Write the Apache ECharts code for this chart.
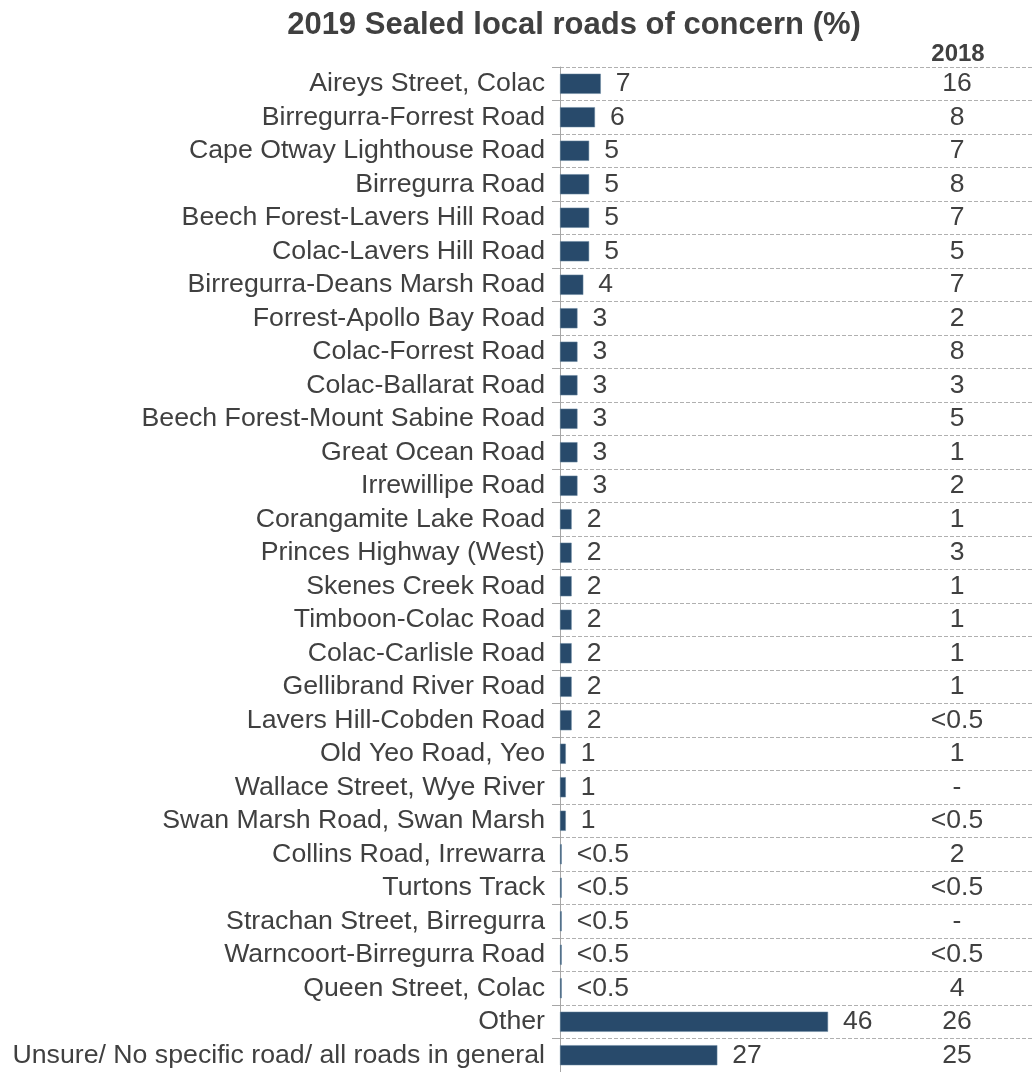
<!DOCTYPE html>
<html><head><meta charset="utf-8">
<script src="https://cdn.jsdelivr.net/npm/echarts@6/dist/echarts.min.js"></script>
<style>html,body{margin:0;padding:0;background:#fff}#c{width:1032px;height:1072px}</style>
</head><body><div id="c"></div>
<script>
var categories = ["Aireys Street, Colac","Birregurra-Forrest Road","Cape Otway Lighthouse Road","Birregurra Road","Beech Forest-Lavers Hill Road","Colac-Lavers Hill Road","Birregurra-Deans Marsh Road","Forrest-Apollo Bay Road","Colac-Forrest Road","Colac-Ballarat Road","Beech Forest-Mount Sabine Road","Great Ocean Road","Irrewillipe Road","Corangamite Lake Road","Princes Highway (West)","Skenes Creek Road","Timboon-Colac Road","Colac-Carlisle Road","Gellibrand River Road","Lavers Hill-Cobden Road","Old Yeo Road, Yeo","Wallace Street, Wye River","Swan Marsh Road, Swan Marsh","Collins Road, Irrewarra","Turtons Track","Strachan Street, Birregurra","Warncoort-Birregurra Road","Queen Street, Colac","Other","Unsure/ No specific road/ all roads in general"];
var values2019 = [7,6,5,5,5,5,4,3,3,3,3,3,3,2,2,2,2,2,2,2,1,1,1,0.3,0.3,0.3,0.3,0.3,46,27];
var labels2018 = ["16","8","7","8","7","5","7","2","8","3","5","1","2","1","3","1","1","1","1","<0.5","1","-","<0.5","2","<0.5","-","<0.5","4","26","25"];
var titleText = "2019 Sealed local roads of concern (%)";
var columnHeader = "2018";

var chart = echarts.init(document.getElementById('c'));
var txt = '#404040';
var ff = 'Liberation Sans, Arial, sans-serif';
chart.setOption({
  animation: false,
  title: [
    {text: titleText, left: 569, top: 5, textAlign: 'center',
     textStyle: {fontFamily: ff, fontSize: 31, fontWeight: 'bold', color: txt}},
    {text: columnHeader, left: 953, top: 37, textAlign: 'center',
     textStyle: {fontFamily: ff, fontSize: 24, fontWeight: 'bold', color: txt}}
  ],
  grid: {left: 560, right: 0, top: 67, bottom: 0, containLabel: false},
  xAxis: {type: 'value', min: 0, max: 81, show: false},
  yAxis: [
    {type: 'category', data: categories, inverse: true,
     axisLine: {show: true, lineStyle: {color: '#a6a6a6', width: 1}},
     axisTick: {show: true, interval: 0, length: 8, lineStyle: {color: '#a6a6a6'}},
     axisLabel: {interval: 0, margin: 15, fontFamily: ff, fontSize: 26.7, color: txt},
     splitLine: {show: true, interval: 0, lineStyle: {color: '#b0b0b0', type: [4, 2], width: 1}}
    },
    {type: 'category', data: labels2018, inverse: true, position: 'right',
     axisLine: {show: false}, axisTick: {show: false}, splitLine: {show: false},
     axisLabel: {interval: 0, margin: -75, align: 'center', fontFamily: ff, fontSize: 26.5, color: txt}
    }
  ],
  series: [{
    type: 'bar', data: values2019, barCategoryGap: '40%',
    itemStyle: {color: '#284a6b', borderColor: '#6d8aa3', borderWidth: 0.5},
    label: {show: true, position: 'right', distance: 15, fontFamily: ff, fontSize: 26.5, color: txt,
            formatter: function (p) { return p.value < 0.5 ? '<0.5' : String(p.value); }}
  }]
});
</script></body></html>
